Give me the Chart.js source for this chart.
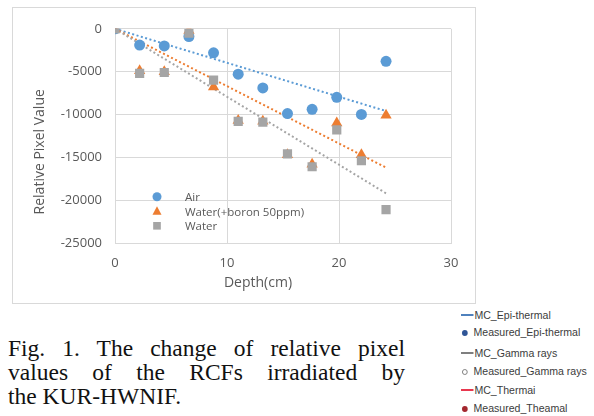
<!DOCTYPE html>
<html>
<head>
<meta charset="utf-8">
<script src="https://cdn.jsdelivr.net/npm/chart.js@4.4.0/dist/chart.umd.min.js"></script>
<style>
  body { margin: 0; background: #fff; }
  #page { position: relative; width: 594px; height: 416px; overflow: hidden; }
  #frame { position: absolute; left: 12px; top: 7px; width: 462px; height: 295px; border: 1px solid #d9d9d9; }
  #caption {
    position: absolute; left: 8px; top: 336px; width: 397px;
    font: 23.5px/24px "Liberation Serif", "Times New Roman", serif;
    color: #111;
  }
  #caption .j { text-align: justify; text-align-last: justify; }
  .key { position: absolute; left: 461px; font: 11px/14px "Liberation Sans", Arial, sans-serif; color: #3c3c3c; white-space: nowrap; transform: scaleX(0.96); transform-origin: left center; }
  .key .ln { display: inline-block; width: 13px; height: 2px; vertical-align: 3px; margin-right: 1px; }
  .key .dot { display: inline-block; width: 6px; height: 6px; border-radius: 50%; margin: 0 6px 0 1px; vertical-align: 0px; box-sizing: border-box; }
</style>
</head>
<body>
<div id="page">
  <div id="frame"><canvas id="myChart" width="462" height="295"></canvas></div>
  <div id="caption">
    <div class="j">Fig. 1. The change of relative pixel</div>
    <div class="j">values of the RCFs irradiated by</div>
    <div>the KUR-HWNIF.</div>
  </div>
  <div class="key" style="top:308px"><span class="ln" style="background:#4f81bd"></span>MC_Epi-thermal</div>
  <div class="key" style="top:325px"><span class="dot" style="background:#2f5597"></span>Measured_Epi-thermal</div>
  <div class="key" style="top:346px"><span class="ln" style="background:#7f7f7f"></span>MC_Gamma rays</div>
  <div class="key" style="top:364px"><span class="dot" style="border:1px solid #7f7f7f"></span>Measured_Gamma rays</div>
  <div class="key" style="top:383px"><span class="ln" style="background:#e8384f"></span>MC_Thermai</div>
  <div class="key" style="top:401px"><span class="dot" style="background:#a3272e"></span>Measured_Theamal</div>
</div>
<script>
  // valores
  const depth = [0, 2.2, 4.4, 6.6, 8.8, 11, 13.2, 15.4, 17.6, 19.8, 22, 24.2];
  const air = [0, -1900, -2000, -900, -2800, -5300, -6900, -9900, -9400, -8000, -10000, -3800];
  const waterBoron = [0, -4900, -5000, -200, -6800, -10700, -10800, -14700, -15800, -11000, -14700, -10100];
  const water = [0, -5200, -5100, -500, -6000, -10800, -10900, -14600, -16100, -11800, -15400, -21100];

  // linhas de tendência (pontilhadas)
  const trendDepth = [0, 24.2];
  const airTrend = [0, -9600];
  const waterBoronTrend = [0, -16200];
  const waterTrend = [0, -19200];

  const seriesNames = ['Air', 'Water(+boron 50ppm)', 'Water'];
  const xTicks = [0, 10, 20, 30];
  const yTicks = [0, -5000, -10000, -15000, -20000, -25000];
  const xTitle = 'Depth(cm)';
  const yTitle = 'Relative Pixel Value';

  const blue = '#5b9bd5';
  const orange = '#ed7d31';
  const gray = '#a5a5a5';
  const tickColor = '#595959';
  const gridColor = '#d9d9d9';

  const pts = (xs, ys) => xs.map((x, i) => ({ x: x, y: ys[i] }));

  function pointSet(label, values, color, style, radius, order) {
    return {
      label: label,
      data: pts(depth, values),
      pointStyle: style,
      pointRadius: radius,
      pointBackgroundColor: color,
      pointBorderWidth: 0,
      backgroundColor: color,
      borderColor: color,
      showLine: false,
      order: order,
    };
  }

  function trendSet(values, color, order) {
    return {
      data: pts(trendDepth, values),
      showLine: true,
      borderColor: color,
      borderWidth: 2,
      borderDash: [2, 2.5],
      pointRadius: 0,
      order: order,
    };
  }

  const markers = [
    { color: blue, style: 'circle' },
    { color: orange, style: 'triangle' },
    { color: gray, style: 'rect' },
  ];

  function drawMarker(ctx, m, x, y, r) {
    ctx.fillStyle = m.color;
    ctx.beginPath();
    if (m.style === 'circle') {
      ctx.arc(x, y, r, 0, Math.PI * 2);
    } else if (m.style === 'triangle') {
      ctx.moveTo(x, y - r * 1.1);
      ctx.lineTo(x + r, y + r * 0.75);
      ctx.lineTo(x - r, y + r * 0.75);
      ctx.closePath();
    } else {
      ctx.rect(x - r * 0.85, y - r * 0.85, r * 1.7, r * 1.7);
    }
    ctx.fill();
  }

  // títulos dos eixos e legenda interna
  const extras = {
    id: 'extras',
    afterDraw(chart) {
      const { ctx, chartArea: a } = chart;
      ctx.save();
      ctx.fillStyle = tickColor;
      ctx.font = '14px "Open Sans"';
      ctx.textAlign = 'center';
      ctx.textBaseline = 'middle';
      ctx.fillText(xTitle, a.left + 143, a.bottom + 40);
      ctx.save();
      ctx.translate(27, a.top + 123);
      ctx.rotate(-Math.PI / 2);
      ctx.fillText(yTitle, 0, 0);
      ctx.restore();

      ctx.font = '11.5px "Open Sans"';
      ctx.textAlign = 'left';
      seriesNames.forEach((name, i) => {
        const y = a.top + 168 + i * 14.5;
        drawMarker(ctx, markers[i], a.left + 42, y, 4.5);
        ctx.fillStyle = tickColor;
        ctx.fillText(name, a.left + 70, y + 1);
      });
      ctx.restore();
    },
  };

  new Chart(document.getElementById('myChart'), {
    type: 'scatter',
    data: {
      datasets: [
        pointSet(seriesNames[0], air, blue, 'circle', 5.5, 3),
        pointSet(seriesNames[1], waterBoron, orange, 'triangle', 6.5, 2),
        pointSet(seriesNames[2], water, gray, 'rect', 6.5, 1),
        trendSet(airTrend, blue, 6),
        trendSet(waterBoronTrend, orange, 5),
        trendSet(waterTrend, gray, 4),
      ],
    },
    options: {
      responsive: false,
      animation: false,
      layout: { padding: { left: 0, top: 19, right: 24, bottom: 0 } },
      plugins: { legend: { display: false }, tooltip: { enabled: false } },
      scales: {
        x: {
          type: 'linear',
          min: xTicks[0],
          max: xTicks[xTicks.length - 1],
          afterBuildTicks: (s) => { s.ticks = xTicks.map(v => ({ value: v })); },
          afterFit: (s) => { s.height = 60; },
          grid: { color: gridColor, drawTicks: false },
          border: { color: gridColor },
          ticks: { color: tickColor, padding: 12, font: { family: 'Open Sans', size: 13 } },
        },
        y: {
          min: yTicks[yTicks.length - 1],
          max: yTicks[0],
          afterBuildTicks: (s) => { s.ticks = yTicks.map(v => ({ value: v })); },
          afterFit: (s) => { s.width = 102; },
          grid: { color: gridColor, drawTicks: false },
          border: { color: gridColor },
          ticks: { color: tickColor, padding: 13, font: { family: 'Open Sans', size: 13 }, callback: (v) => String(v) },
        },
      },
    },
    plugins: [extras],
  });
</script>
</body>
</html>
